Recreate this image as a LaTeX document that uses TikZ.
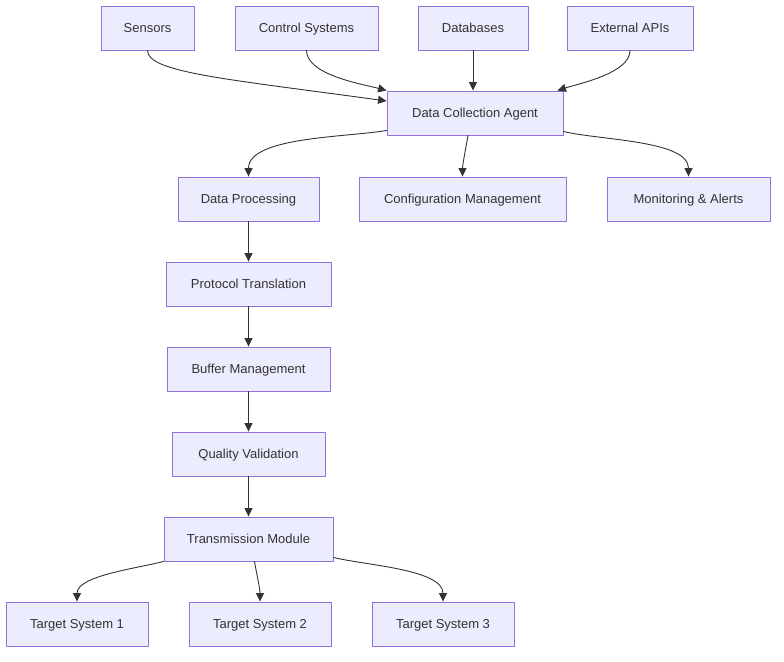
\documentclass[tikz,border=0pt]{standalone}
\usepackage{fontspec}
\setmainfont{Liberation Sans}
\usetikzlibrary{arrows.meta}
\definecolor{boxfill}{HTML}{ECECFF}
\definecolor{boxline}{HTML}{9370DB}
\definecolor{edgeline}{HTML}{333333}
\definecolor{boxtext}{HTML}{333333}
\begin{document}
\begin{tikzpicture}[x=1pt, y=-1pt, font=\fontsize{13}{15}\selectfont, line join=round, line cap=round,
	>={Triangle[length=8.5pt, width=8pt]},
	box/.style={draw=boxline, fill=boxfill, text=boxtext, line width=0.9pt, minimum height=44pt, minimum width=#1,
		inner sep=0pt, text height=11pt, text depth=2pt},
	flow/.style={->, draw=edgeline, line width=0.9pt}]
	\useasboundingbox (0,0) rectangle (784,661);
	% Quellen
	\node[box=93pt]  (sensors)  at (147.5,28) {Sensors};
	\node[box=143pt] (control)  at (306.5,28) {Control Systems};
	\node[box=110pt] (dbs)      at (473,28)   {Databases};
	\node[box=126pt] (apis)     at (630,28)   {External APIs};
	% Agent und Nebenzweige
	\node[box=176pt] (agent)    at (475,113)  {Data Collection Agent};
	\node[box=141pt] (proc)     at (248.5,199) {Data Processing};
	\node[box=207pt] (config)   at (462.5,199) {Configuration Management};
	\node[box=163pt] (monitor)  at (688.5,199) {Monitoring \& Alerts};
	% Verarbeitungskette
	\node[box=165pt] (protocol) at (248.5,284) {Protocol Translation};
	\node[box=163pt] (buffer)   at (248.5,369) {Buffer Management};
	\node[box=153pt] (quality)  at (248.5,454) {Quality Validation};
	\node[box=169pt] (trans)    at (248.5,539) {Transmission Module};
	% Ziele
	\node[box=142pt] (target1)  at (77,624)  {Target System 1};
	\node[box=142pt] (target2)  at (260,624) {Target System 2};
	\node[box=142pt] (target3)  at (443,624) {Target System 3};

	\draw[flow] (sensors.south) .. controls +(0,22) and +(-160,-22) .. ([yshift=12pt]agent.west);
	\draw[flow] (control.south) to[out=-90, in=165, looseness=0.7] (agent.north west);
	\draw[flow] (dbs.south) -- (dbs.south |- agent.north);
	\draw[flow] (apis.south) to[out=-90, in=18, looseness=0.7] ([xshift=-6pt]agent.north east);
	\draw[flow] ([yshift=5pt]agent.south west) to[out=190, in=90, looseness=0.7] (proc.north);
	\draw[flow] ([xshift=-7pt]agent.south) to[out=-100, in=90, looseness=0.7] (config.north);
	\draw[flow] ([yshift=4pt]agent.south east) to[out=-14, in=90, looseness=0.7] (monitor.north);
	\draw[flow] (proc) -- (protocol);
	\draw[flow] (protocol) -- (buffer);
	\draw[flow] (buffer) -- (quality);
	\draw[flow] (quality) -- (trans);
	\draw[flow] (trans.south west) to[out=195, in=90, looseness=0.7] (target1.north);
	\draw[flow] ([xshift=6pt]trans.south) to[out=-80, in=90, looseness=0.8] (target2.north);
	\draw[flow] ([yshift=4pt]trans.south east) to[out=-14, in=90, looseness=0.7] (target3.north);
\end{tikzpicture}
\end{document}
